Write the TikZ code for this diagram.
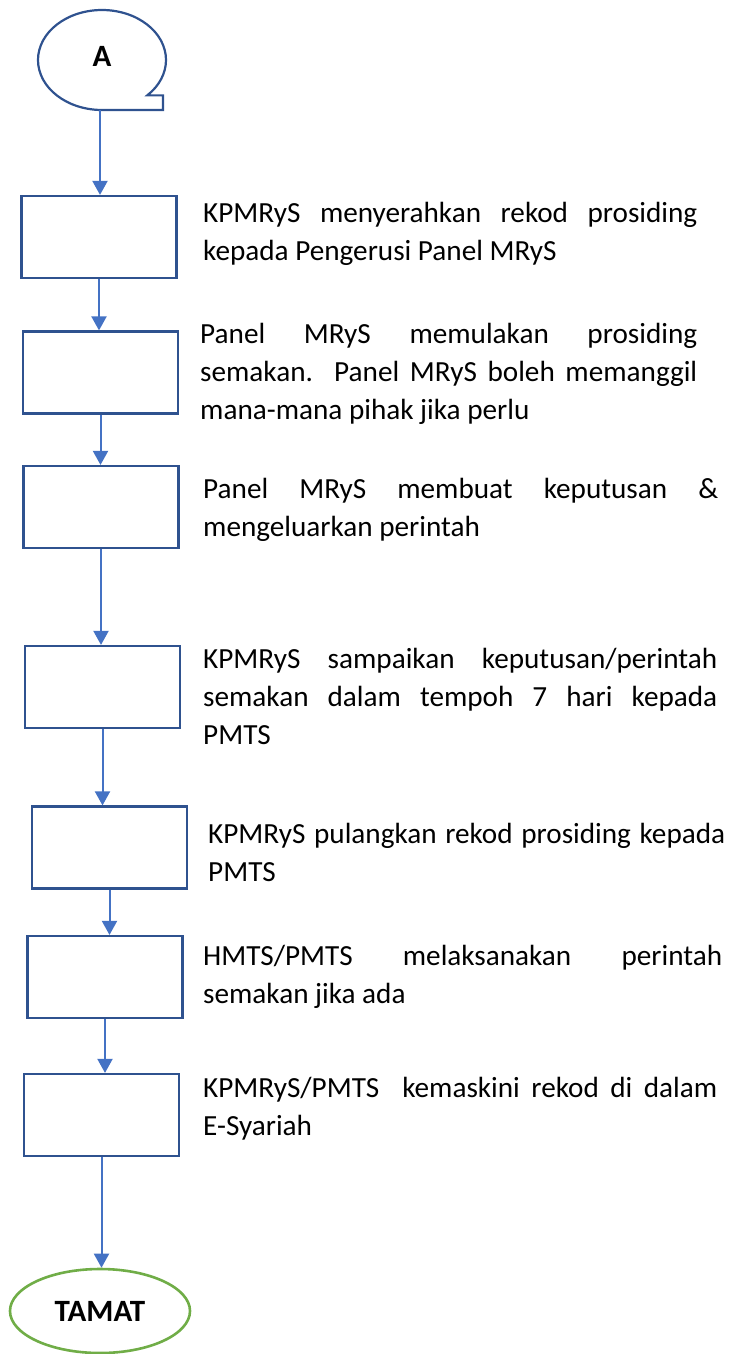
\documentclass[tikz,border=0pt]{standalone}
\usepackage{fontspec}
\setmainfont{Carlito}
\usetikzlibrary{positioning}
\usetikzlibrary{shapes.geometric}
\usetikzlibrary{arrows.meta}

\definecolor{arrowblue}{RGB}{68,114,196}
\definecolor{boxblue}{RGB}{47,82,143}
\definecolor{endgreen}{RGB}{112,173,71}

\newcommand{\stepfont}{\fontsize{29.2}{38}\selectfont}
\newcommand{\markfont}{\fontsize{31}{38}\selectfont\bfseries}

\begin{document}
\begin{tikzpicture}[x=1pt, y=1pt,
    stepbox/.style={draw=boxblue, line width=2.2pt, minimum width=155pt, minimum height=82pt, inner sep=0pt},
    steptext/.style={anchor=base west, inner sep=0pt, align=justify, font=\stepfont},
    flowarrow/.style={draw=arrowblue, line width=2pt, -{Triangle[width=15pt, length=14pt]}}]
    \useasboundingbox (0, 0) rectangle (736, -1354);

    % connector A
    \draw[boxblue, line width=2.2pt] (102, -110) arc[start angle=270, end angle=-45, x radius=64, y radius=50]
        -- (163, -95.4) -- (163, -110) -- cycle;
    \node[font=\markfont] (A) at (102, -56) {A};
    \coordinate (Abot) at (100, -110);

    % steps
    \node[stepbox] (b1) at (99, -237) {};
    \node[stepbox] (b2) at (100.5, -372.5) {};
    \node[stepbox] (b3) at (101, -507) {};
    \node[stepbox] (b4) at (102.5, -687) {};
    \node[stepbox] (b5) at (109.5, -847.5) {};
    \node[stepbox] (b6) at (105, -977) {};
    \node[stepbox] (b7) at (101.5, -1115) {};

    \node[draw=endgreen, line width=2.6pt, ellipse, minimum width=180pt, minimum height=84pt, inner sep=0pt, font=\markfont]
        (end) at (100, -1311) {TAMAT};

    % texts
    \node[steptext, text width=494pt] (t1) at (203, -222)
        {KPMRyS menyerahkan rekod prosiding\linebreak kepada Pengerusi Panel MRyS};
    \node[steptext, text width=497pt] (t2) at (200, -343)
        {Panel MRyS memulakan prosiding\linebreak semakan.\ \ Panel MRyS boleh memanggil\linebreak mana-mana pihak jika perlu};
    \node[steptext, text width=515pt] (t3) at (203, -498)
        {Panel MRyS membuat keputusan \&\linebreak mengeluarkan perintah};
    \node[steptext, text width=514pt] (t4) at (203, -668)
        {KPMRyS sampaikan keputusan/perintah\linebreak semakan dalam tempoh 7 hari kepada\linebreak PMTS};
    \node[steptext, text width=517pt] (t5) at (208, -843)
        {KPMRyS pulangkan rekod prosiding kepada\linebreak PMTS};
    \node[steptext, text width=519pt] (t6) at (203, -965)
        {HMTS/PMTS melaksanakan perintah\linebreak semakan jika ada};
    \node[steptext, text width=514pt] (t7) at (203, -1097)
        {KPMRyS/PMTS\ \ kemaskini rekod di dalam\linebreak E-Syariah};

    % arrows
    \draw[flowarrow] (Abot) -- (Abot |- b1.north);
    \foreach \a/\b in {b1/b2, b2/b3, b3/b4, b4/b5, b5/b6, b6/b7, b7/end}
        \draw[flowarrow] (\a.south) -- (\a.south |- \b.north);
\end{tikzpicture}
\end{document}
